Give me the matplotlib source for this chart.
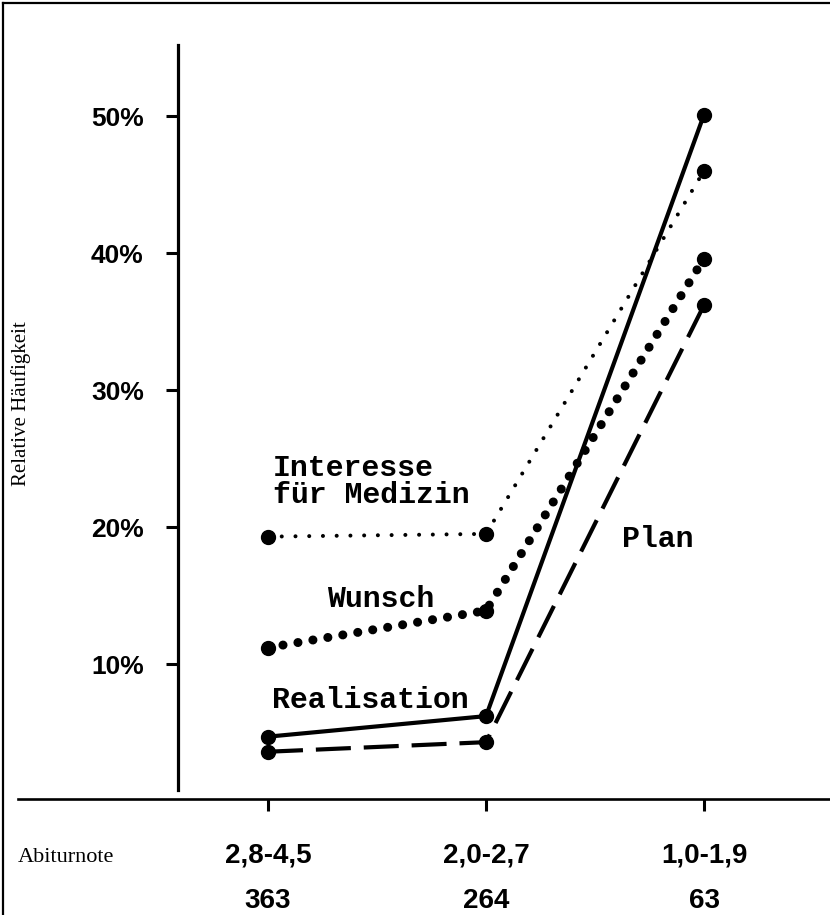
import matplotlib
matplotlib.use("Agg")
import matplotlib.pyplot as plt
from matplotlib.lines import Line2D

# Abiturnote groups, group sizes and relative frequencies (%)
grades = ["2,8-4,5", "2,0-2,7", "1,0-1,9"]
counts = ["363", "264", "63"]
interesse = [19.3, 19.5, 46.0]
wunsch = [11.2, 13.9, 39.6]
realisation = [4.7, 6.2, 50.1]
plan = [3.6, 4.3, 36.2]

yticks = [10, 20, 30, 40, 50]

W, H = 830, 915
fig = plt.figure(figsize=(W / 100, H / 100), dpi=100)
fig.patch.set_facecolor("white")

# axes spans from the left margin to the right edge of the picture
ax = fig.add_axes([18 / W, (H - 799) / H, (W - 18) / W, (799 - 40) / H])
xs = range(len(grades))
ax.set_xlim((18 - 268) / 218, (830 - 268) / 218)
ax.set_ylim(0.15, 55.55)

mono = dict(family="Liberation Mono", weight="bold", fontsize=21.5)
sans = dict(family="Liberation Sans", weight="bold")

# lines
ax.plot(xs, interesse, color="black", lw=2.9, linestyle=(0, (0.01, 3.4)),
        dash_capstyle="round", marker="o", ms=10, zorder=3)
ax.plot(xs, wunsch, color="black", lw=6.5, linestyle=(0, (0.01, 1.67)),
        dash_capstyle="round", marker="o", ms=10, zorder=3)
ax.plot(xs, realisation, color="black", lw=3.0, linestyle="-",
        marker="o", ms=10, zorder=3)
ax.plot(xs, plan, color="black", lw=3.0, linestyle=(0, (8.4, 3.1)),
        marker="o", ms=10, zorder=3)

# series labels
ax.text(0.023, 23.72, "Interesse", ha="left", va="baseline", **mono)
ax.text(0.023, 21.75, "für Medizin", ha="left", va="baseline", **mono)
ax.text(0.27, 14.16, "Wunsch", ha="left", va="baseline", **mono)
ax.text(0.018, 6.79, "Realisation", ha="left", va="baseline", **mono)
ax.text(1.624, 18.54, "Plan", ha="left", va="baseline", **mono)

# spines
for s in ["top", "right"]:
    ax.spines[s].set_visible(False)
ax.spines["left"].set_position(("data", (178 - 268) / 218))
ax.spines["left"].set_bounds(0.8, 55.2)
ax.spines["left"].set_linewidth(2.3)
ax.spines["bottom"].set_linewidth(1.9)

ax.set_yticks(yticks)
ax.set_yticklabels([f"{v}%" for v in yticks], fontsize=19, **sans)
ax.tick_params(axis="y", direction="out", length=8.6, width=2.2, pad=16)

ax.set_xticks(list(xs))
ax.set_xticklabels(grades, fontsize=20, **sans)
ax.tick_params(axis="x", direction="out", length=8.6, width=2.2, pad=23)

for x, n in zip(xs, counts):
    ax.text(x, -0.1436, n, transform=ax.get_xaxis_transform(), ha="center",
            va="baseline", fontsize=20, **sans)

ax.text(0.0, -0.083, "Abiturnote", transform=ax.transAxes, ha="left",
        va="baseline", family="Liberation Serif", fontsize=16)
fig.text(21 / W, 1 - 404 / H, "Relative Häufigkeit", rotation=90,
         ha="center", va="center", family="Liberation Serif", fontsize=15)

# frame at left and top edge of the scan
fig.add_artist(Line2D([3 / W, 3 / W], [0, 1 - 3 / H], color="black", lw=1.6))
fig.add_artist(Line2D([3 / W, 1], [1 - 3 / H, 1 - 3 / H], color="black", lw=1.6))

fig.savefig("out.png", dpi=100, facecolor="white")
